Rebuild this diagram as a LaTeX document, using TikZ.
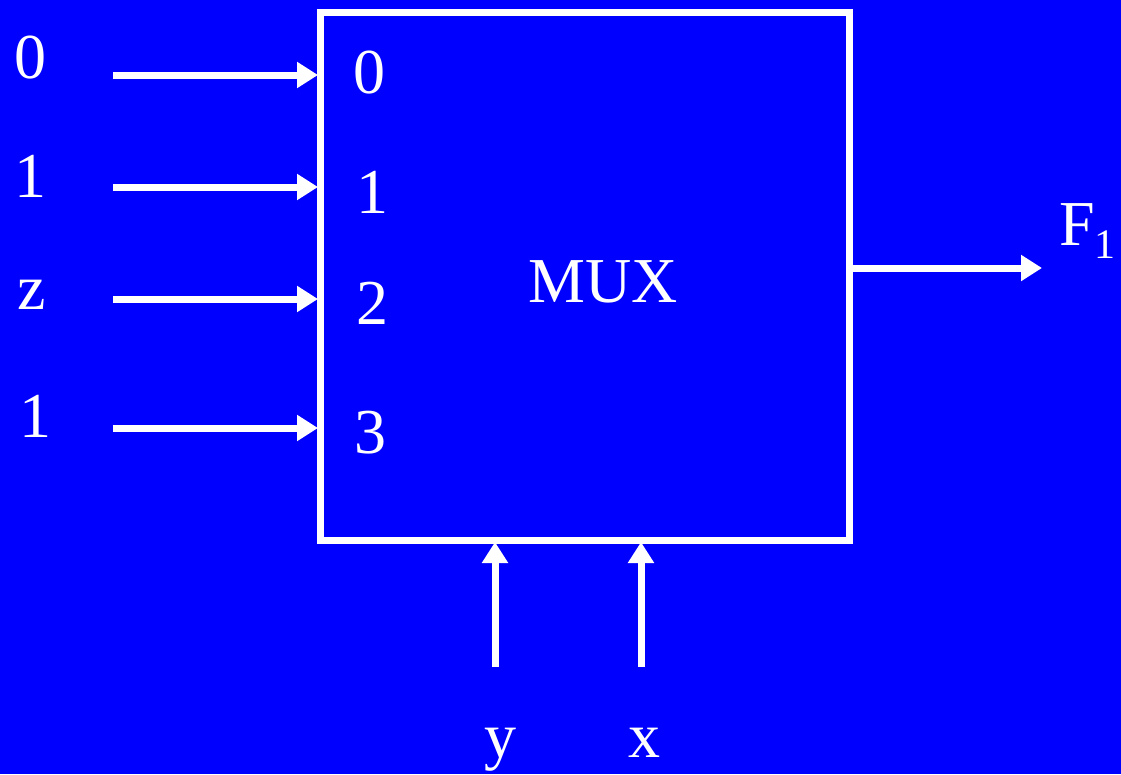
\documentclass[tikz,border=0pt]{standalone}
\usepackage{fontspec}
\setmainfont{Liberation Serif}
\usetikzlibrary{arrows.meta}
\definecolor{bgblue}{RGB}{0,0,255}
\begin{document}
\begin{tikzpicture}[x=1pt,y=-1pt,
  lbl/.style={text=white,font=\fontsize{64}{64}\selectfont,anchor=base,inner sep=0pt},
  wire/.style={white,line width=7pt,-{Triangle[length=21pt,width=25pt]}},
  muxbox/.style={draw=white,line width=7pt,fill=none}]
\fill[bgblue] (0,0) rectangle (1121,774);
\useasboundingbox (0,0) rectangle (1121,774);
\draw[muxbox] (320,12) rectangle (849,540);
% input coordinates
\coordinate (s0) at (113,75);  \coordinate (e0) at (318,75);
\coordinate (s1) at (113,187); \coordinate (e1) at (318,187);
\coordinate (s2) at (113,299); \coordinate (e2) at (318,299);
\coordinate (s3) at (113,428); \coordinate (e3) at (318,428);
\draw[wire] (s0) -- (e0);
\draw[wire] (s1) -- (e1);
\draw[wire] (s2) -- (e2);
\draw[wire] (s3) -- (e3);
% outside labels
\node[lbl] (i0) at (30,78) {0};
\node[lbl] (i1) at (30,197) {1};
\node[lbl] (i2) at (32,309) {z};
\node[lbl] (i3) at (35,437) {1};
% inside labels
\node[lbl] (p0) at (369,93) {0};
\node[lbl] (p1) at (372,213) {1};
\node[lbl] (p2) at (372,324) {2};
\node[lbl] (p3) at (370,453) {3};
\node[lbl] (mux) at (603,302) {MUX};
% output
\coordinate (os) at (852,268); \coordinate (oe) at (1042,268);
\draw[wire] (os) -- (oe);
\node[lbl,anchor=base west] (f1) at (1059,245) {F\raisebox{-13pt}{\fontsize{42}{42}\selectfont 1}};
% selects
\coordinate (ys) at (495,667); \coordinate (ye) at (495,542);
\coordinate (xs) at (641,667); \coordinate (xe) at (641,542);
\draw[wire] (ys) -- (ye);
\draw[wire] (xs) -- (xe);
\node[lbl] (y) at (500,757) {y};
\node[lbl] (x) at (644,757) {x};
\end{tikzpicture}
\end{document}
